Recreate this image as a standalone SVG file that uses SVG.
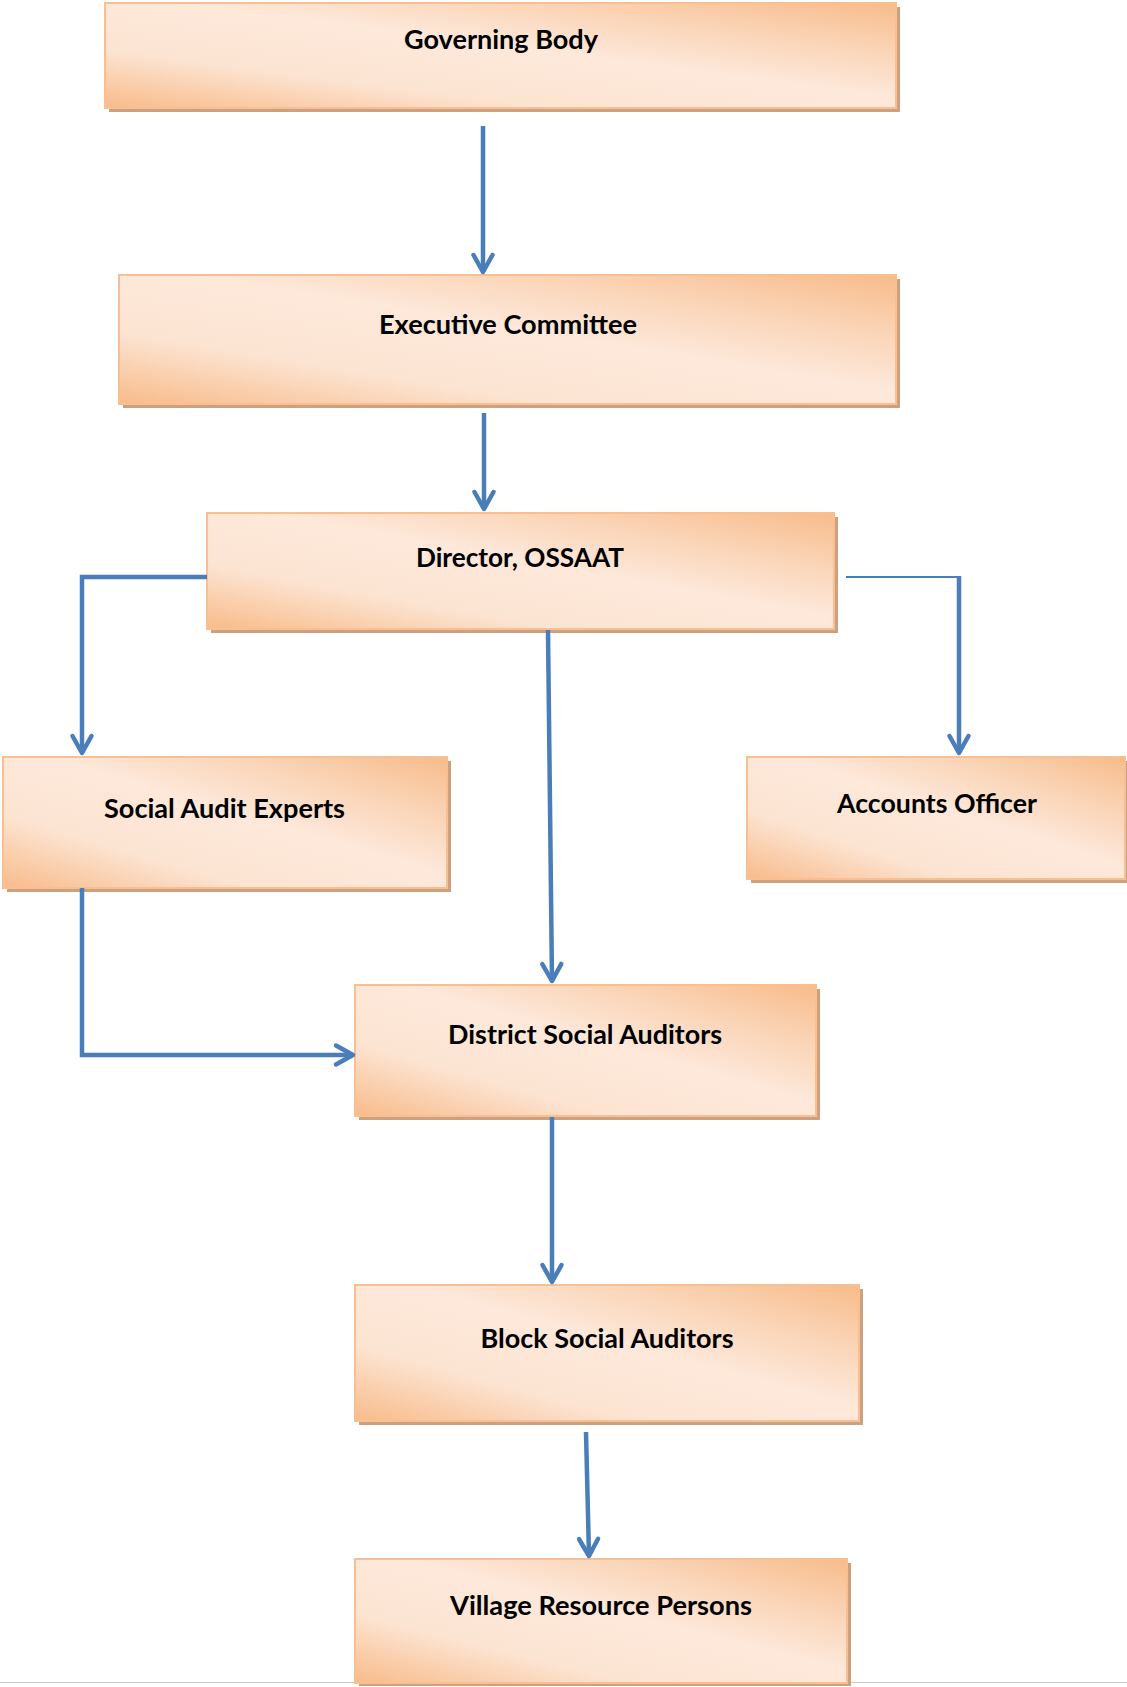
<svg xmlns="http://www.w3.org/2000/svg" width="1127" height="1687" viewBox="0 0 1127 1687">
<defs>
<linearGradient id="gr" x1="1" y1="0" x2="0" y2="1">
<stop offset="0" stop-color="#f8bb8a"/>
<stop offset="0.22" stop-color="#fad3b4"/>
<stop offset="0.45" stop-color="#fde8da"/>
<stop offset="0.72" stop-color="#fce4d2"/>
<stop offset="1" stop-color="#f8bb8a"/>
</linearGradient>
<marker id="ah" markerUnits="userSpaceOnUse" orient="auto" overflow="visible" markerWidth="1" markerHeight="1" refX="0" refY="0">
<path d="M -17 -9.5 L 0 0 L -17 9.5" fill="none" stroke="#4a7ebb" stroke-width="4.5" stroke-linecap="round" stroke-linejoin="round"/>
</marker>
</defs>
<style>
.box{fill:url(#gr);stroke:#f9bf90;stroke-width:2}
.sh{fill:#cda17f}
.t{font-family:Lato,"Liberation Sans",sans-serif;font-weight:bold;font-size:26px;fill:#000;text-anchor:middle}
.c{fill:none;stroke:#4a7ebb;stroke-width:4.5}
.thin{fill:none;stroke:#4a7ebb;stroke-width:2}
</style>
<rect width="1127" height="1687" fill="#fff"/>
<line x1="0" y1="1682.5" x2="1127" y2="1682.5" stroke="#c8c8c8" stroke-width="1"/>

<g id="governing-body">
<rect class="sh" x="109" y="7" width="791" height="105"/>
<rect class="box" x="105" y="3" width="791" height="105"/>
<text class="t" x="501" y="49" textLength="194" lengthAdjust="spacingAndGlyphs">Governing Body</text>
</g>
<g id="executive-committee">
<rect class="sh" x="123" y="279" width="777" height="129"/>
<rect class="box" x="119" y="275" width="777" height="129"/>
<text class="t" x="508" y="334" textLength="258" lengthAdjust="spacingAndGlyphs">Executive Committee</text>
</g>
<g id="director">
<rect class="sh" x="211" y="517" width="627" height="116"/>
<rect class="box" x="207" y="513" width="627" height="116"/>
<text class="t" x="520" y="567" textLength="208" lengthAdjust="spacingAndGlyphs">Director, OSSAAT</text>
</g>
<g id="social-audit-experts">
<rect class="sh" x="7" y="761" width="444" height="131"/>
<rect class="box" x="3" y="757" width="444" height="131"/>
<text class="t" x="224.5" y="818" textLength="241" lengthAdjust="spacingAndGlyphs">Social Audit Experts</text>
</g>
<g id="accounts-officer">
<rect class="sh" x="751" y="761" width="378" height="122"/>
<rect class="box" x="747" y="757" width="378" height="122"/>
<text class="t" x="937" y="813" textLength="200" lengthAdjust="spacingAndGlyphs">Accounts Officer</text>
</g>
<g id="district-social-auditors">
<rect class="sh" x="359" y="989" width="461" height="131"/>
<rect class="box" x="355" y="985" width="461" height="131"/>
<text class="t" x="585" y="1044" textLength="274" lengthAdjust="spacingAndGlyphs">District Social Auditors</text>
</g>
<g id="block-social-auditors">
<rect class="sh" x="359" y="1289" width="504" height="136"/>
<rect class="box" x="355" y="1285" width="504" height="136"/>
<text class="t" x="607" y="1348" textLength="253" lengthAdjust="spacingAndGlyphs">Block Social Auditors</text>
</g>
<g id="village-resource-persons">
<rect class="sh" x="359" y="1563" width="492" height="123"/>
<rect class="box" x="355" y="1559" width="492" height="124"/>
<text class="t" x="601" y="1615" textLength="302" lengthAdjust="spacingAndGlyphs">Village Resource Persons</text>
</g>

<g id="connectors">
<path class="c" d="M 483 126 V 272" marker-end="url(#ah)"/>
<path class="c" d="M 484 413 V 509" marker-end="url(#ah)"/>
<path class="c" d="M 207 577 H 82 V 753" marker-end="url(#ah)"/>
<path class="c" d="M 548 630 L 552 981" marker-end="url(#ah)"/>
<path class="thin" d="M 846 577 H 959"/>
<path class="c" d="M 959 576 V 753" marker-end="url(#ah)"/>
<path class="c" d="M 82 888 V 1055 H 353" marker-end="url(#ah)"/>
<path class="c" d="M 552 1117 V 1282" marker-end="url(#ah)"/>
<path class="c" d="M 586 1432 L 589 1556" marker-end="url(#ah)"/>
</g>
</svg>
